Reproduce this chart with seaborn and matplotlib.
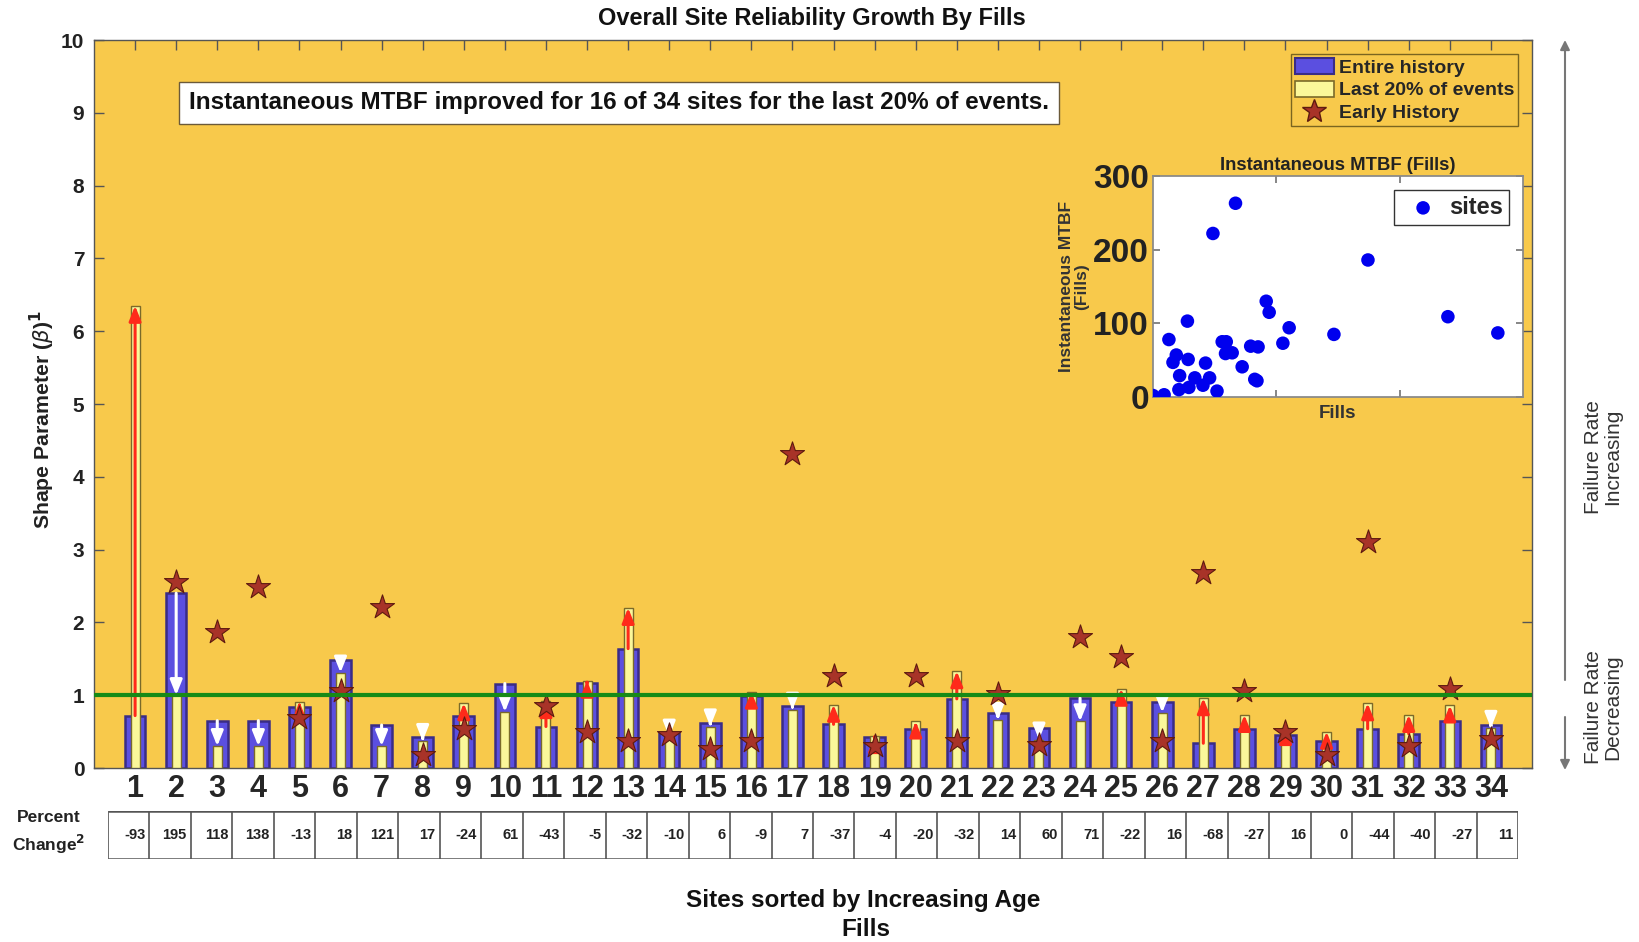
import numpy as np
import pandas as pd
import matplotlib
matplotlib.use("Agg")
import matplotlib.pyplot as plt
import seaborn as sns
from matplotlib.patches import Patch
from matplotlib.lines import Line2D

# ---------------- data ----------------
sites = list(range(1, 35))
entire_history = [0.72, 2.40, 0.65, 0.65, 0.84, 1.49, 0.59, 0.42, 0.72, 1.16,
                  0.57, 1.17, 1.64, 0.48, 0.62, 0.99, 0.85, 0.60, 0.42, 0.53,
                  0.95, 0.76, 0.55, 0.96, 0.91, 0.91, 0.34, 0.54, 0.46, 0.37,
                  0.54, 0.47, 0.65, 0.59]
last_20pct = [6.35, 1.00, 0.30, 0.30, 0.91, 1.31, 0.30, 0.37, 0.89, 0.77,
              0.92, 1.20, 2.20, 0.43, 0.57, 1.05, 0.80, 0.87, 0.44, 0.64,
              1.33, 0.66, 0.39, 0.64, 1.09, 0.76, 0.96, 0.73, 0.55, 0.50,
              0.89, 0.73, 0.86, 0.55]
early_history = [np.nan, 2.55, 1.87, 2.49, 0.69, 1.06, 2.21, 0.18, 0.53, np.nan,
                 0.85, 0.49, 0.37, 0.46, 0.26, 0.37, 4.32, 1.26, 0.30, 1.26,
                 0.37, 1.02, 0.32, 1.80, 1.52, 0.37, 2.68, 1.06, 0.50, 0.18,
                 3.10, 0.30, 1.09, 0.40]
percent_change = [-93, 195, 118, 138, -13, 18, 121, 17, -24, 61, -43, -5, -32,
                  -10, 6, -9, 7, -37, -4, -20, -32, 14, 60, 71, -22, 16, -68,
                  -27, 16, 0, -44, -40, -27, 11]
mtbf_fills_x = [0, 90, 129, 189, 162, 216, 210, 279, 285, 291, 339, 405, 426,
                459, 486, 519, 561, 594, 588, 642, 669, 723, 792, 852, 825,
                843, 918, 942, 1053, 1104, 1467, 1743, 2391, 2796]
mtbf_y = [2, 3, 78, 57, 47, 29, 10, 103, 51, 13, 26, 16, 46, 26, 222, 8, 75,
          75, 59, 60, 263, 41, 69, 68, 24, 22, 130, 115, 73, 94, 85, 186, 109, 87]

# ---------------- style ----------------
sns.set_theme(style="ticks")
plt.rcParams["font.family"] = ["Liberation Sans", "DejaVu Sans"]
plt.rcParams["mathtext.fontset"] = "dejavusans"

BG = "#F8C94B"
BLUE = "#5B4FE0"
BLUE_EDGE = "#3A2C86"
YELLOW = "#FBF79A"
YEL_EDGE = "#7A6A2A"
STAR = "#A83328"
STAR_EDGE = "#5E1A10"
GREEN = "#178A17"

W, H = 1639, 942
fig = plt.figure(figsize=(W / 100, H / 100), dpi=100)
fig.patch.set_facecolor("white")

df = pd.DataFrame({"site": sites, "entire": entire_history,
                   "last": last_20pct, "early": early_history})

# ---------------- main axes ----------------
ax = fig.add_axes([94 / W, 1 - 768 / H, (1532 - 94) / W, (768 - 40) / H])
ax.set_facecolor(BG)

sns.barplot(data=df, x="site", y="entire", native_scale=True, width=0.5,
            color=BLUE, edgecolor=BLUE_EDGE, linewidth=1.8, saturation=1,
            errorbar=None, ax=ax, zorder=2)
sns.barplot(data=df, x="site", y="last", native_scale=True, width=0.22,
            color=YELLOW, edgecolor=YEL_EDGE, linewidth=1.0, saturation=1,
            errorbar=None, ax=ax, zorder=3)

for s, e, l in zip(sites, entire_history, last_20pct):
    if abs(l - e) < 0.02:
        continue
    col = "#FF2A1A" if l > e else "white"
    ax.annotate("", xy=(s, l), xytext=(s, e),
                arrowprops=dict(arrowstyle="-|>,head_width=0.3,head_length=0.75",
                                color=col, lw=2.2, mutation_scale=12,
                                shrinkA=0, shrinkB=0),
                zorder=4)

sns.scatterplot(data=df, x="site", y="early", marker="*", s=330, color=STAR,
                edgecolor=STAR_EDGE, linewidth=0.8, ax=ax, zorder=5, legend=False)

ax.axhline(1, color=GREEN, lw=3, zorder=6)

ax.set_xlim(0, 35)
ax.set_ylim(0, 10)
ax.set_xticks(sites)
ax.set_xticklabels([str(s) for s in sites], fontsize=22, fontweight="bold")
ax.set_yticks(range(0, 11))
ax.set_yticklabels([str(v) for v in range(0, 11)], fontsize=15, fontweight="bold",
                   color="#222222")
ax.tick_params(axis="both", direction="in", length=7, width=1, color="#555555",
               top=True, right=True)
ax.tick_params(axis="x", pad=4)
ax.tick_params(axis="y", pad=7)
ax.set_xlabel("")
ax.set_ylabel("")
for sp in ax.spines.values():
    sp.set_color("#555555")
    sp.set_linewidth(1)

handles = [Patch(facecolor=BLUE, edgecolor=BLUE_EDGE, linewidth=1.5),
           Patch(facecolor=YELLOW, edgecolor=YEL_EDGE, linewidth=1.2),
           Line2D([], [], marker="*", ls="", ms=18, mfc=STAR, mec=STAR_EDGE)]
leg = ax.legend(handles, ["Entire history", "Last 20% of events", "Early History"],
                loc="upper right", bbox_to_anchor=(1518 / W, 1 - 54 / H),
                bbox_transform=fig.transFigure, borderaxespad=0,
                prop=dict(weight="bold", size=14), frameon=True,
                facecolor=BG, edgecolor="#7A6520", framealpha=1, fancybox=False,
                borderpad=0.2, labelspacing=0.2, handletextpad=0.25,
                handlelength=2.0, handleheight=0.9)
leg.get_frame().set_linewidth(1.0)
leg.set_zorder(10)

fig.text(619 / W, 1 - 103 / H,
         "Instantaneous MTBF improved for 16 of 34 sites for the last 20% of events.",
         ha="center", va="center", fontsize=17.5, fontweight="bold", color="#111111",
         bbox=dict(boxstyle="square,pad=0.4", fc="white", ec="#6B5A3A", lw=1))

fig.text(812 / W, 1 - 19 / H, "Overall Site Reliability Growth By Fills",
         ha="center", va="center", fontsize=17, fontweight="bold", color="#111111")
fig.text(42 / W, 1 - 420 / H, r"Shape Parameter ($\beta$)$^{\mathbf{1}}$",
         rotation=90, ha="center", va="center", fontsize=15.3, fontweight="bold",
         color="#222222")
fig.text(863 / W, 1 - 901 / H, "Sites sorted by Increasing Age", ha="center",
         va="center", fontsize=17.5, fontweight="bold", color="#111111")
fig.text(866 / W, 1 - 930 / H, "Fills", ha="center", va="center",
         fontsize=17.5, fontweight="bold", color="#111111")

# right-side failure-rate arrows
ax.annotate("", xy=(1565 / W, 1 - 40 / H), xytext=(1565 / W, 1 - 680 / H),
            xycoords="figure fraction", textcoords="figure fraction",
            arrowprops=dict(arrowstyle="-|>", color="#777777", lw=1.5,
                            mutation_scale=14, shrinkA=0, shrinkB=0),
            annotation_clip=False)
ax.annotate("", xy=(1565 / W, 1 - 770 / H), xytext=(1565 / W, 1 - 717 / H),
            xycoords="figure fraction", textcoords="figure fraction",
            arrowprops=dict(arrowstyle="-|>", color="#777777", lw=1.5,
                            mutation_scale=14, shrinkA=0, shrinkB=0),
            annotation_clip=False)
fig.text(1603 / W, 1 - 457 / H, "Failure Rate\nIncreasing", rotation=90,
         ha="center", va="center", fontsize=15, color="#333333", linespacing=1.05)
fig.text(1603 / W, 1 - 707 / H, "Failure Rate\nDecreasing", rotation=90,
         ha="center", va="center", fontsize=15, color="#333333", linespacing=1.05)

# ---------------- percent change table ----------------
tax = fig.add_axes([108 / W, 1 - 859 / H, 1410 / W, 48 / H])
n = len(percent_change)
tax.set_xlim(0, n)
tax.set_ylim(0, 1)
tax.axis("off")
tax.vlines(range(n + 1), 0, 1, color="#555555", lw=1.2)
tax.hlines([0, 1], 0, n, color="#555555", lw=1.8)
for i, v in enumerate(percent_change):
    tax.text(i + 0.9, 0.5, str(v), ha="right", va="center", fontsize=10.5,
             fontweight="bold", color="#222222")
fig.text(49 / W, 1 - 833 / H, "Percent\nChange$^{\\mathbf{2}}$", ha="center",
         va="center", fontsize=12.5, fontweight="bold", color="#222222",
         linespacing=1.45)

# ---------------- inset ----------------
iax = fig.add_axes([1153 / W, 1 - 397 / H, 370 / W, 221 / H])
iax.set_facecolor("white")
sns.scatterplot(x=mtbf_fills_x, y=mtbf_y, s=95, color="#0000EE", edgecolor="none",
                ax=iax, label="sites", zorder=3)
iax.set_xlim(0, 3000)
iax.set_ylim(0, 300)
iax.set_xticks([1000, 2000])
iax.set_xticklabels([])
iax.set_yticks([0, 100, 200, 300])
iax.set_yticklabels(["0", "100", "200", "300"], fontsize=24, fontweight="bold",
                    color="#222222")
iax.tick_params(axis="both", direction="in", length=5, top=True, right=True,
                color="#777777", pad=3)
for sp in iax.spines.values():
    sp.set_color("#888888")
iax.set_title("Instantaneous MTBF (Fills)", fontsize=13.3, fontweight="bold",
              pad=4, color="#222222")
iax.set_xlabel("Fills", fontsize=13.5, fontweight="bold", labelpad=3,
               color="#333333")
iax.set_ylabel("Instantaneous MTBF\n(Fills)", fontsize=12.5, fontweight="bold",
               labelpad=3, color="#333333", linespacing=1.0)
ileg = iax.legend(loc="upper right", prop=dict(weight="bold", size=17),
                  frameon=True, fancybox=False, edgecolor="#333333",
                  framealpha=1, borderpad=0.25, handletextpad=0.1,
                  markerscale=1.0, borderaxespad=0.6)

fig.savefig("out.png", dpi=100, facecolor="white")
